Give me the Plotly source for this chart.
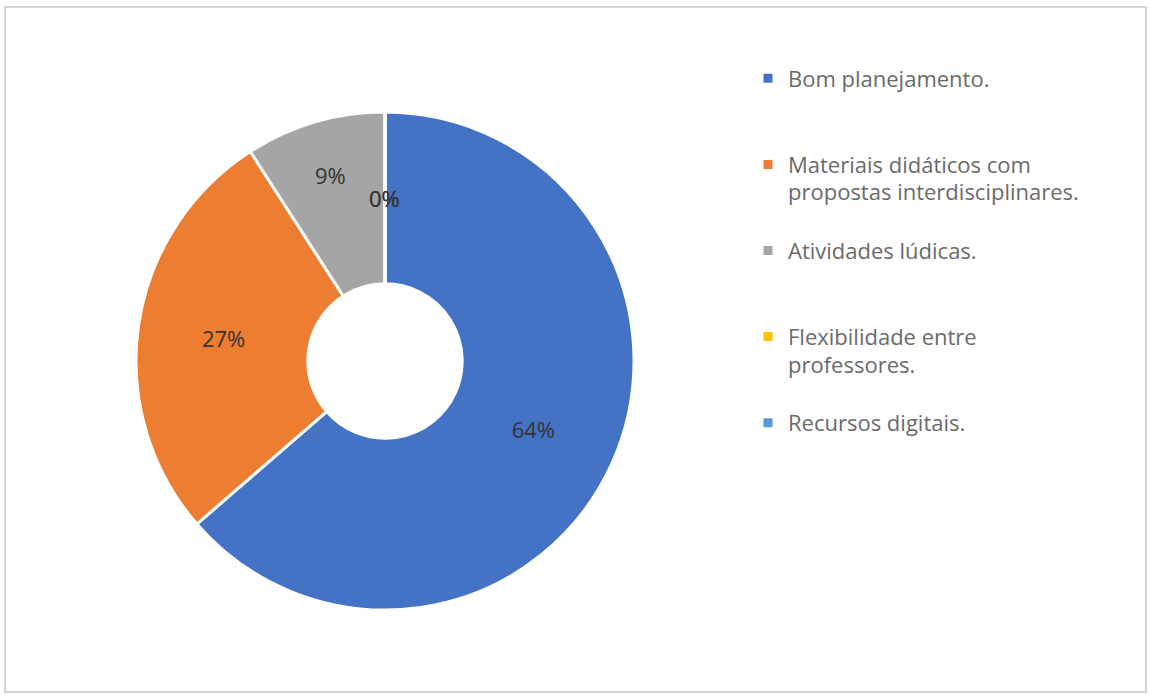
import math
import plotly.graph_objects as go

categories = [
    "Bom planejamento.",
    "Materiais didáticos com<br>propostas interdisciplinares.",
    "Atividades lúdicas.",
    "Flexibilidade entre<br>professores.",
    "Recursos digitais.",
]
counts = [7, 3, 1, 0, 0]
pct_labels = ["64%", "27%", "9%", "0%", "0%"]
colors = ["#4472C4", "#ED7D31", "#A5A5A5", "#FFC000", "#5B9BD5"]

# pad every legend entry to three lines so the entries are evenly spaced
legend_names = []
for c in categories:
    n = c.count("<br>") + 1
    legend_names.append('<span style="font-size:22px">' + c + "</span>" + "<br> " * (3 - n))

W, H = 1149, 697
cx, cy, r = 385, 361, 249
hole = 0.31
label_font = dict(family="Open Sans", size=22, color="#333333")

fig = go.Figure()
fig.add_trace(go.Pie(
    labels=legend_names,
    values=counts,
    text=pct_labels,
    textinfo="text",
    textposition="inside",
    insidetextorientation="horizontal",
    textfont=label_font,
    hole=hole,
    sort=False,
    direction="clockwise",
    rotation=0,
    marker=dict(colors=colors, line=dict(color="white", width=3)),
    showlegend=True,
    domain=dict(x=[(cx - r) / W, (cx + r) / W], y=[(H - cy - r) / H, (H - cy + r) / H]),
    hoverinfo="label+percent",
))

# labels of zero-size slices (plotly does not draw text for empty slices)
total = sum(counts)
annotations = []
cum = 0
rm = r * (1 + hole) / 2
for v, t in zip(counts, pct_labels):
    if v == 0:
        ang = 2 * math.pi * cum / total
        px = cx + rm * math.sin(ang)
        py = cy - rm * math.cos(ang)
        annotations.append(dict(x=px / W, y=1 - py / H, xref="paper", yref="paper",
                                text=t, showarrow=False, font=label_font,
                                xanchor="center", yanchor="middle"))
    cum += v

fig.update_layout(
    width=W, height=H,
    margin=dict(l=0, r=0, t=0, b=0),
    paper_bgcolor="white",
    plot_bgcolor="white",
    annotations=annotations,
    legend=dict(
        x=748 / W, y=1 - 58 / H, xanchor="left", yanchor="top",
        font=dict(family="Open Sans", size=21.3, color="#6a6a6a"),
        valign="top",
        bgcolor="rgba(0,0,0,0)",
        traceorder="normal",
    ),
    shapes=[dict(type="rect", xref="paper", yref="paper",
                 x0=5 / W, x1=1146 / W, y0=1 - 692 / H, y1=1 - 7 / H,
                 line=dict(color="#d4d4d4", width=2))],
)

fig.write_html("out.html")
